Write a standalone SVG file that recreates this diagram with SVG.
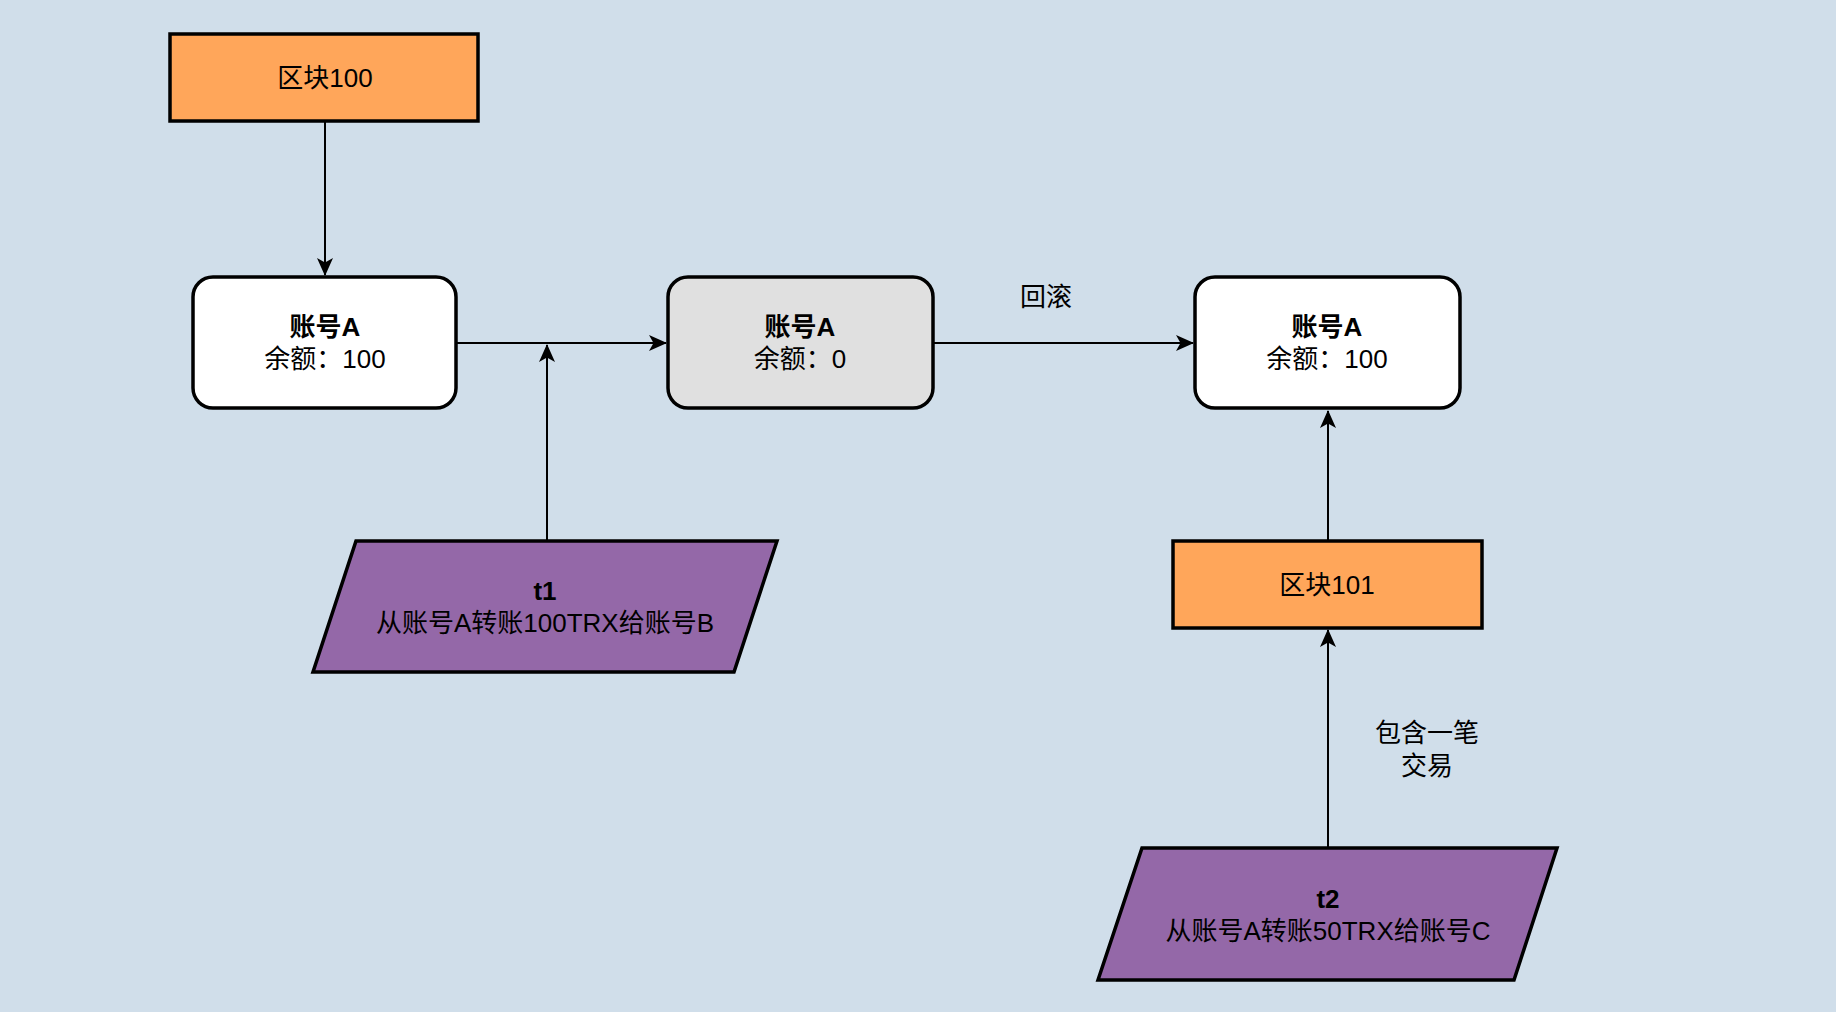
<svg xmlns="http://www.w3.org/2000/svg" width="1836" height="1012" viewBox="0 0 1836 1012">
<style>
.t{font-family:"Liberation Sans","Noto Sans CJK SC",sans-serif;font-size:26px;fill:#000;text-anchor:middle;dominant-baseline:central}
.b{font-weight:bold}
.orange{fill:#FFA65A;stroke:#000;stroke-width:3.5}
.acct{fill:#FFFFFF;stroke:#000;stroke-width:3.5}
.grey{fill:#E0E0E0;stroke:#000;stroke-width:3.5}
.tx{fill:#9468A8;stroke:#000;stroke-width:3.5}
.e{fill:none;stroke:#000;stroke-width:2;marker-end:url(#arr)}
</style>
<defs>
<marker id="arr" markerUnits="userSpaceOnUse" markerWidth="18" markerHeight="16" refX="17" refY="8" orient="auto" viewBox="0 0 18 16">
<path d="M0,0 L18,8 L0,16 L4.5,8 z" fill="#000"/>
</marker>
</defs>
<rect width="1836" height="1012" fill="#D0DEEA"/>
<g id="edges">
<path class="e" d="M325,122 L325,275"/>
<path class="e" d="M457,343 L666,343"/>
<path class="e" d="M547,541 L547,345"/>
<path class="e" d="M933,343 L1193,343"/>
<path class="e" d="M1328,540 L1328,411"/>
<path class="e" d="M1328,847 L1328,630"/>
<text class="t" x="1046" y="297">回滚</text>
<text class="t" x="1427" y="733">包含一笔</text>
<text class="t" x="1427" y="766">交易</text>
</g>
<g id="block100">
<rect class="orange" x="170" y="34" width="308" height="87"/>
<text class="t" x="325" y="78">区块100</text>
</g>
<g id="acctA1">
<rect class="acct" x="193" y="277" width="263" height="131" rx="20"/>
<text class="t b" x="325" y="327">账号A</text>
<text class="t" x="325" y="359">余额：100</text>
</g>
<g id="acctA2">
<rect class="grey" x="668" y="277" width="265" height="131" rx="20"/>
<text class="t b" x="800" y="327">账号A</text>
<text class="t" x="800" y="359">余额：0</text>
</g>
<g id="acctA3">
<rect class="acct" x="1195" y="277" width="265" height="131" rx="20"/>
<text class="t b" x="1327" y="327">账号A</text>
<text class="t" x="1327" y="359">余额：100</text>
</g>
<g id="t1">
<polygon class="tx" points="356,541 777,541 734,672 313,672"/>
<text class="t b" x="545" y="591">t1</text>
<text class="t" x="545" y="623">从账号A转账100TRX给账号B</text>
</g>
<g id="block101">
<rect class="orange" x="1173" y="541" width="309" height="87"/>
<text class="t" x="1327" y="585">区块101</text>
</g>
<g id="t2">
<polygon class="tx" points="1142,848 1557,848 1514,980 1098,980"/>
<text class="t b" x="1328" y="899">t2</text>
<text class="t" x="1328" y="931">从账号A转账50TRX给账号C</text>
</g>
</svg>
